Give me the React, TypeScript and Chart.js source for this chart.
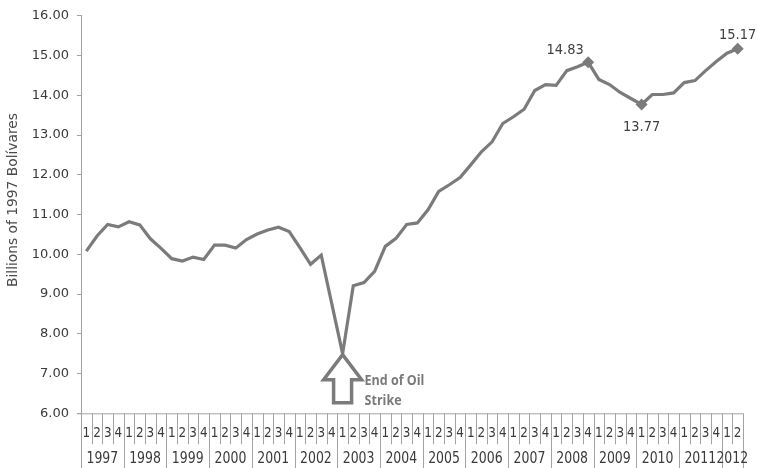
import React, { useEffect, useRef } from "react";
import { Chart, registerables } from "chart.js";

Chart.register(...registerables);

// Quarterly real GDP, 1997 Q1 – 2012 Q2
const years = ["1997", "1998", "1999", "2000", "2001", "2002", "2003", "2004", "2005", "2006", "2007", "2008", "2009", "2010", "2011", "2012"];
const quarterLabels = ["1", "2", "3", "4"];
const gdp = [
  10.08, 10.46, 10.75, 10.69,
  10.82, 10.74, 10.39, 10.15,
  9.89, 9.83, 9.93, 9.87,
  10.23, 10.23, 10.16, 10.37,
  10.51, 10.61, 10.68, 10.57,
  10.17, 9.75, 9.98, 8.74,
  7.50, 9.21, 9.29, 9.57,
  10.20, 10.40, 10.75, 10.79,
  11.12, 11.58, 11.75, 11.93,
  12.25, 12.58, 12.83, 13.29,
  13.46, 13.65, 14.12, 14.27,
  14.25, 14.62, 14.72, 14.83,
  14.40, 14.27, 14.07, 13.92,
  13.77, 14.02, 14.02, 14.06,
  14.32, 14.37, 14.62, 14.85,
  15.06, 15.17,
];
const highlighted = [47, 52, 61];
const strikeEndIndex = 24;
const yTicksMin = 6;
const yTicksMax = 16;
const yTitle = "Billions of 1997 Bolívares";
const noteLines = ["End of Oil", "Strike"];

const categories = gdp.map((_, i) => `${years[Math.floor(i / 4)]} Q${(i % 4) + 1}`);

const LINE = "#7b7b7b";
const AXIS = "#a3a3a3";
const TEXT = "#3a3a3a";

// draws text slightly stretched vertically, like the axis labels
function tallText(ctx: CanvasRenderingContext2D, text: string, x: number, y: number, sy: number) {
  ctx.save();
  ctx.translate(x, y);
  ctx.scale(1, sy);
  ctx.fillText(text, 0, 0);
  ctx.restore();
}

const overlayPlugin = {
  id: "overlay",
  afterDraw(chart: any) {
    const { ctx, chartArea } = chart;
    const xs = chart.scales.x;
    const ys = chart.scales.y;
    const meta = chart.getDatasetMeta(0);
    const n = gdp.length;
    const step = (chartArea.right - chartArea.left) / n;
    const bottom = chartArea.bottom;
    ctx.save();

    // y-axis title
    ctx.save();
    ctx.translate(13, 200);
    ctx.rotate(-Math.PI / 2);
    ctx.font = "13.8px 'DejaVu Sans'";
    ctx.fillStyle = "#4a4a4a";
    ctx.textAlign = "center";
    ctx.textBaseline = "middle";
    ctx.fillText(yTitle, 0, 0);
    ctx.restore();

    // two-level category axis
    ctx.strokeStyle = AXIS;
    ctx.lineWidth = 1;
    ctx.beginPath();
    ctx.moveTo(chartArea.left - 4, bottom + 0.5);
    ctx.lineTo(chartArea.right, bottom + 0.5);
    for (let i = 0; i <= n; i++) {
      const x = Math.round(chartArea.left + i * step) + 0.5;
      const yearEdge = i % 4 === 0 || i === n;
      ctx.moveTo(x, bottom);
      ctx.lineTo(x, yearEdge ? 468 : bottom + 31);
    }
    ctx.stroke();

    ctx.fillStyle = TEXT;
    ctx.textAlign = "center";
    ctx.textBaseline = "middle";
    ctx.font = "12px 'DejaVu Sans'";
    for (let i = 0; i < n; i++) {
      tallText(ctx, quarterLabels[i % 4], xs.getPixelForValue(i), bottom + 20, 1.2);
    }
    ctx.font = "12.5px 'DejaVu Sans'";
    years.forEach((yr, k) => {
      const first = k * 4;
      const last = Math.min(first + 3, n - 1);
      const cx = (xs.getPixelForValue(first) + xs.getPixelForValue(last)) / 2;
      tallText(ctx, yr, cx, bottom + 46, 1.2);
    });

    // value labels on highlighted points
    ctx.font = "13px 'DejaVu Sans'";
    ctx.fillStyle = "#404040";
    const offsets: Record<number, [number, number]> = {
      47: [-23, -12],
      52: [0, 23],
      61: [0, -14],
    };
    highlighted.forEach((i) => {
      const p = meta.data[i];
      const [dx, dy] = offsets[i];
      tallText(ctx, gdp[i].toFixed(2), p.x + dx, p.y + dy, 1.1);
    });

    // hollow arrow marking the end of the oil strike
    const ax = xs.getPixelForValue(strikeEndIndex);
    const tip = ys.getPixelForValue(gdp[strikeEndIndex]) + 1;
    ctx.beginPath();
    ctx.moveTo(ax, tip);
    ctx.lineTo(ax + 19, tip + 25);
    ctx.lineTo(ax + 9, tip + 25);
    ctx.lineTo(ax + 9, tip + 48);
    ctx.lineTo(ax - 9, tip + 48);
    ctx.lineTo(ax - 9, tip + 25);
    ctx.lineTo(ax - 19, tip + 25);
    ctx.closePath();
    ctx.fillStyle = "#ffffff";
    ctx.fill();
    ctx.strokeStyle = LINE;
    ctx.lineWidth = 3.5;
    ctx.lineJoin = "miter";
    ctx.stroke();

    ctx.fillStyle = "#7a7a7a";
    ctx.font = "bold 12.5px 'Open Sans'";
    ctx.textAlign = "left";
    tallText(ctx, noteLines[0], ax + 22, tip + 26, 1.1);
    tallText(ctx, noteLines[1], ax + 22, tip + 46, 1.1);
    ctx.restore();
  },
};

export default function App() {
  const canvasRef = useRef<HTMLCanvasElement>(null);

  useEffect(() => {
    const canvas = canvasRef.current;
    if (!canvas) return;
    const chart = new Chart(canvas, {
      type: "line",
      data: {
        labels: categories,
        datasets: [
          {
            data: gdp,
            borderColor: LINE,
            backgroundColor: LINE,
            borderWidth: 3.2,
            tension: 0,
            pointStyle: "rectRot",
            pointRadius: gdp.map((_, i) => (highlighted.includes(i) ? 6 : 0)),
            pointBorderWidth: 0,
            pointHoverRadius: 0,
          },
        ],
      },
      options: {
        responsive: false,
        animation: false,
        events: [],
        layout: { padding: { top: 13.3, right: 15, bottom: 54.7, left: 0 } },
        plugins: {
          legend: { display: false },
          tooltip: { enabled: false },
        },
        scales: {
          x: {
            type: "category",
            display: false,
            offset: true,
          },
          y: {
            min: yTicksMin,
            max: yTicksMax,
            afterFit: (scale: any) => {
              scale.width = 81;
            },
            ticks: {
              stepSize: 1,
              padding: 8,
              color: TEXT,
              font: { family: "'DejaVu Sans'", size: 13 },
              callback: (v: any) => Number(v).toFixed(2),
            },
            grid: {
              drawOnChartArea: false,
              drawTicks: true,
              tickLength: 4,
              color: AXIS,
            },
            border: { display: true, color: AXIS, width: 1 },
          },
        },
      },
      plugins: [overlayPlugin],
    });
    return () => chart.destroy();
  }, []);

  return (
    <div style={{ position: "fixed", left: 0, top: 0, width: 758, height: 468, background: "#fff" }}>
      <canvas ref={canvasRef} width={758} height={468} />
    </div>
  );
}
